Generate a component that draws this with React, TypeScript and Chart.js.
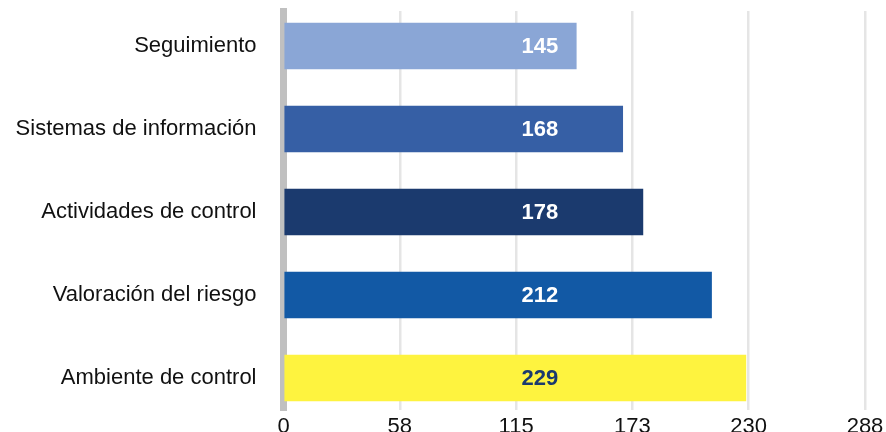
import React, { useEffect, useRef } from "react";
import { Chart, registerables } from "chart.js";

Chart.register(...registerables);

const CATEGORIES = [
  "Seguimiento",
  "Sistemas de información",
  "Actividades de control",
  "Valoración del riesgo",
  "Ambiente de control",
];
const VALUES = [145, 168, 178, 212, 229];
const BAR_COLORS = ["#8AA6D6", "#365FA5", "#1B3A6E", "#1259A5", "#FEF33F"];
const LABEL_COLORS = ["#FFFFFF", "#FFFFFF", "#FFFFFF", "#FFFFFF", "#1B3A6E"];
const X_TICKS = [0, 57.6, 115.2, 172.8, 230.4, 288];
const X_MAX = 288;
const LABEL_VALUE = 127;

const FONT = "'Liberation Sans', Arial, Helvetica, sans-serif";

const valueLabels = {
  id: "valueLabels",
  afterDatasetsDraw(chart: any) {
    const ctx = chart.ctx;
    const meta = chart.getDatasetMeta(0);
    const xs = chart.scales.x;
    ctx.save();
    ctx.font = `bold 22px ${FONT}`;
    ctx.textAlign = "center";
    ctx.textBaseline = "middle";
    meta.data.forEach((bar: any, i: number) => {
      ctx.fillStyle = LABEL_COLORS[i];
      ctx.fillText(String(VALUES[i]), xs.getPixelForValue(LABEL_VALUE), bar.y + 1);
    });
    ctx.restore();
  },
};

export default function App() {
  const ref = useRef<HTMLCanvasElement | null>(null);
  useEffect(() => {
    if (!ref.current) return;
    const chart = new Chart(ref.current, {
      type: "bar",
      data: {
        labels: CATEGORIES,
        datasets: [
          {
            data: VALUES,
            backgroundColor: BAR_COLORS,
            borderWidth: 0,
            barThickness: 46,
          },
        ],
      },
      options: {
        indexAxis: "y",
        animation: false,
        responsive: false,
        maintainAspectRatio: false,
        layout: { padding: { top: 11, right: 21, left: 0, bottom: 0 } },
        plugins: { legend: { display: false }, tooltip: { enabled: false } },
        scales: {
          x: {
            min: 0,
            max: X_MAX,
            afterBuildTicks: (axis: any) => {
              axis.ticks = X_TICKS.map((v) => ({ value: v }));
            },
            afterFit: (axis: any) => {
              axis.height = 22;
              axis.paddingLeft = 0;
              axis.paddingRight = 0;
            },
            grid: { color: "#E5E5E5", lineWidth: 2.5, drawTicks: false },
            border: { display: false },
            ticks: {
              padding: 4,
              color: "#111111",
              font: { size: 22, family: FONT },
              callback: (v: any) => String(Math.round(Number(v))),
              maxRotation: 0,
              autoSkip: false,
            },
          },
          y: {
            z: 1,
            afterFit: (axis: any) => {
              axis.width = 283.5;
              axis.paddingTop = 0;
              axis.paddingBottom = 0;
            },
            afterBuildTicks: (axis: any) => {
              axis._startValue = -0.4217;
              axis._valueRange = 4.807;
            },
            grid: { display: false, drawTicks: false },
            border: { display: true, color: "#C0C0C0", width: 7 },
            ticks: {
              padding: 27,
              color: "#111111",
              font: { size: 22, family: FONT },
            },
          },
        },
      },
      plugins: [valueLabels],
    });
    return () => chart.destroy();
  }, []);
  return (
    <div style={{ position: "fixed", left: 0, top: 0, width: 886, height: 432, background: "#fff" }}>
      <canvas ref={ref} width={886} height={432} style={{ width: 886, height: 432, display: "block" }} />
    </div>
  );
}
